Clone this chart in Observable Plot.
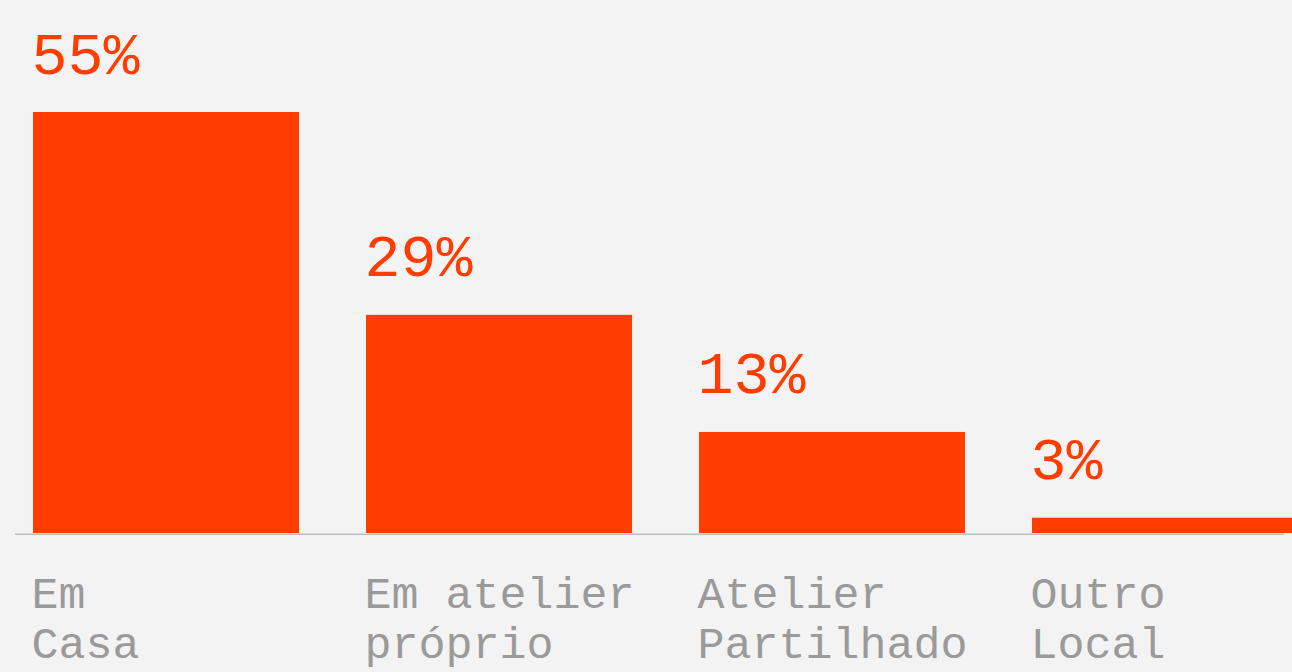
<!DOCTYPE html>
<html>
<head>
<meta charset="utf-8">
<script src="https://cdn.jsdelivr.net/npm/d3@7"></script>
<script src="https://cdn.jsdelivr.net/npm/@observablehq/plot@0.6"></script>
<style>
  html, body { margin: 0; padding: 0; background: #f3f3f3; overflow: hidden; }
  svg { display: block; }
</style>
</head>
<body>
<script>
const categories = ["Em\nCasa", "Em atelier\npróprio", "Atelier\nPartilhado", "Outro\nLocal"];
const values = [55, 28.5, 13.2, 2];
const valueLabels = ["55%", "29%", "13%", "3%"];

const data = categories.map((c, i) => ({cat: c, value: values[i], label: valueLabels[i]}));

const chart = Plot.plot({
  width: 1292,
  height: 672,
  marginLeft: 15,
  marginRight: 8,
  marginTop: 0,
  marginBottom: 0,
  style: {background: "#f3f3f3", fontFamily: "'Liberation Mono', monospace"},
  x: {domain: categories, range: [32, 1299], paddingInner: 0.2, paddingOuter: 0, axis: null},
  y: {domain: [0, 55], range: [533, 112], axis: null},
  marks: [
    Plot.ruleY([0], {stroke: "#bdbdbd", strokeWidth: 1.5, dy: 0.75}),
    Plot.barY(data, {x: "cat", y: "value", fill: "#ff3d00"}),
    Plot.text(data, {x: "cat", y: "value", text: "label", fill: "#ff3d00", fontSize: 60,
      textAnchor: "start", lineAnchor: "bottom", dx: -135, dy: -39}),
    Plot.text(data, {x: "cat", y: 0, text: "cat", fill: "#9a9a9a", fontSize: 45,
      textAnchor: "start", lineAnchor: "top", lineHeight: 1.13, dx: -135, dy: 38})
  ]
});
document.body.appendChild(chart);
</script>
</body>
</html>
